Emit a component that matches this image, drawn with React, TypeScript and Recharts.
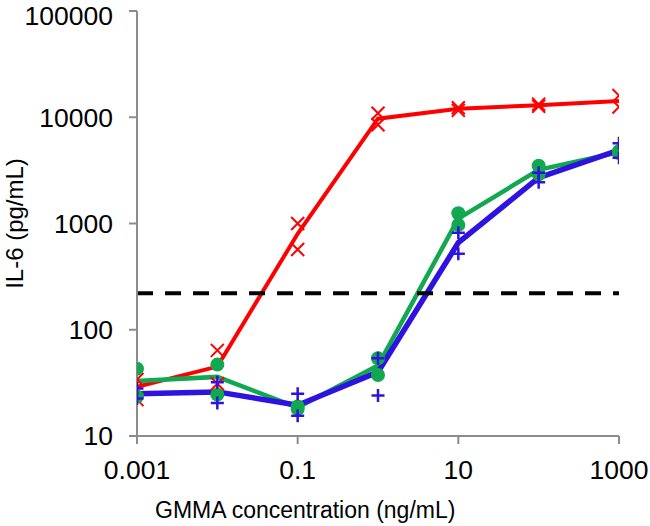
import {
  ComposedChart, Line, Scatter, XAxis, YAxis, ReferenceLine,
} from 'recharts'

const conc = [0.001, 0.01, 0.1, 1, 10, 100, 1000]
const xTicks = [0.001, 0.1, 10, 1000]
const yTicks = [10, 100, 1000, 10000, 100000]
const threshold = 220

const redMean = [29, 45, 800, 9700, 12000, 13000, 14200]
const redRepA = [34, 64, 1000, 10900, 12300, 13300, 16000]
const redRepB = [22, 31, 570, 8500, 11600, 12700, 12500]

const greenMean = [33, 36, 18.5, 46, 1110, 3200, 4700]
const greenRepA = [43, 47, 19, 54, 1250, 3500, 4800]
const greenRepB = [23.5, 24.5, 18, 37.5, 970, 2900, 4600]

const blueMean = [25, 26, 19.5, 40, 660, 2700, 4900]
const blueRepA = [28, 32, 25, 54, 820, 3000, 5700]
const blueRepB = [22.5, 20.5, 15.5, 24, 520, 2450, 4150]

const RED = '#ff0000'
const GREEN = '#11a850'
const BLUE = '#2e12e0'
const AXIS_COLOR = '#8c8c8c'
const FONT = '"Liberation Sans", Arial, sans-serif'

const toRows = (vals: number[]) => conc.map((c, i) => ({ conc: c, v: vals[i] }))

const Cross = (p: any) => {
  const s = 6.5
  return (
    <path d={`M${p.cx - s},${p.cy - s}L${p.cx + s},${p.cy + s}M${p.cx - s},${p.cy + s}L${p.cx + s},${p.cy - s}`}
          stroke={RED} strokeWidth={2} fill="none" />
  )
}
const Plus = (p: any) => {
  const s = 6.5
  return (
    <path d={`M${p.cx - s},${p.cy}L${p.cx + s},${p.cy}M${p.cx},${p.cy - s}L${p.cx},${p.cy + s}`}
          stroke={BLUE} strokeWidth={2.5} fill="none" />
  )
}
const Dot = (p: any) => <circle cx={p.cx} cy={p.cy} r={7} fill={GREEN} />

const TICK = { fill: '#000', fontSize: 26.5, fontFamily: FONT }

export default function App() {
  return (
    <div style={{ position: 'absolute', left: 0, top: 0, background: '#fff' }}>
      <ComposedChart width={650} height={526} margin={{ top: 11, right: 31, left: 0, bottom: 0 }}>
        <XAxis dataKey="conc" type="number" scale="log" domain={[0.001, 1000]} allowDataOverflow
               ticks={xTicks} tickFormatter={(v: number) => String(v)} tick={TICK}
               stroke={AXIS_COLOR} strokeWidth={2} tickSize={8} tickMargin={16} height={90}
               label={{
                 content: (props: any) => {
                   const vb = props.viewBox
                   return (
                     <text x={vb.x + 18} y={vb.y + 82} fontSize={23} fontFamily={FONT} fill="#000">
                       GMMA concentration (ng/mL)
                     </text>
                   )
                 },
               }} />
        <YAxis type="number" scale="log" domain={[10, 100000]} allowDataOverflow ticks={yTicks}
               tick={TICK} stroke={AXIS_COLOR} strokeWidth={2} tickSize={8} tickMargin={16} width={137}
               label={{
                 content: (props: any) => {
                   const vb = props.viewBox
                   const cx = vb.x + 23
                   const cy = vb.y + vb.height / 2
                   return (
                     <text x={cx} y={cy} fontSize={24} fontFamily={FONT} fill="#000" textAnchor="middle"
                           transform={`rotate(-90 ${cx} ${cy})`}>
                       IL-6 (pg/mL)
                     </text>
                   )
                 },
               }} />
        <Line data={toRows(redMean)} dataKey="v" stroke={RED} strokeWidth={4} dot={false} isAnimationActive={false} />
        <Line data={toRows(greenMean)} dataKey="v" stroke={GREEN} strokeWidth={4.5} dot={false} isAnimationActive={false} />
        <Line data={toRows(blueMean)} dataKey="v" stroke={BLUE} strokeWidth={5.5} dot={false} isAnimationActive={false} />
        <Scatter data={toRows(redRepA)} dataKey="v" shape={Cross} isAnimationActive={false} />
        <Scatter data={toRows(redRepB)} dataKey="v" shape={Cross} isAnimationActive={false} />
        <Scatter data={toRows(greenRepA)} dataKey="v" shape={Dot} isAnimationActive={false} />
        <Scatter data={toRows(greenRepB)} dataKey="v" shape={Dot} isAnimationActive={false} />
        <Scatter data={toRows(blueRepA)} dataKey="v" shape={Plus} isAnimationActive={false} />
        <Scatter data={toRows(blueRepB)} dataKey="v" shape={Plus} isAnimationActive={false} />
        <ReferenceLine y={threshold} stroke="#000" strokeWidth={4} strokeDasharray="16 12" isFront />
      </ComposedChart>
    </div>
  )
}
